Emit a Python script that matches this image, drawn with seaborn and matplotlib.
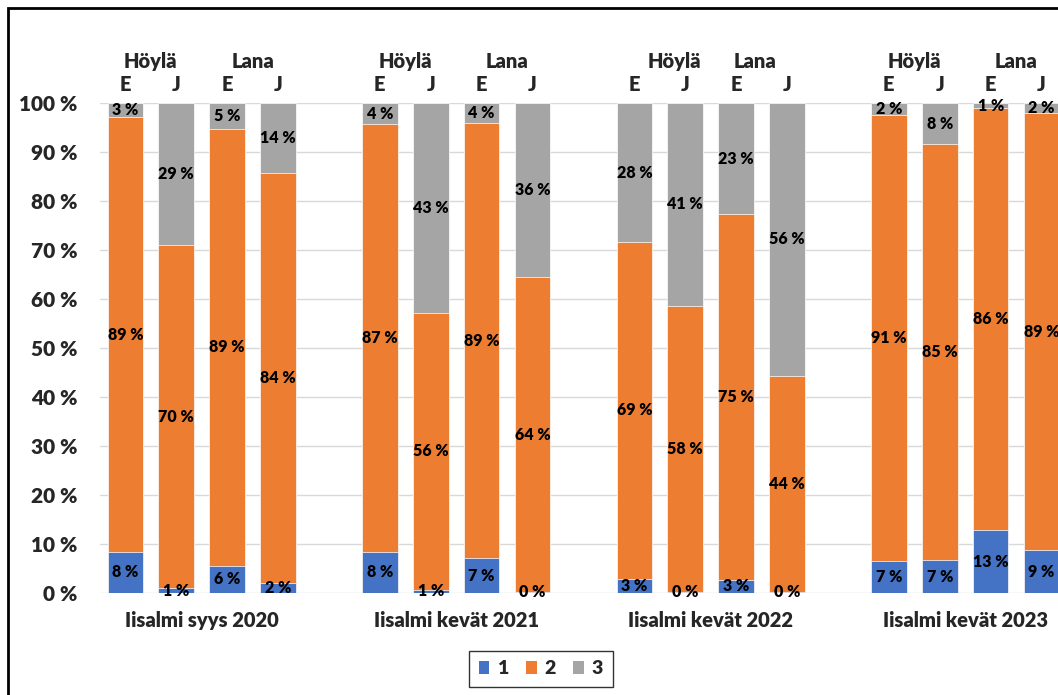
import pandas as pd
import numpy as np
import matplotlib.pyplot as plt
import seaborn as sns
from matplotlib.patches import Patch, Rectangle

sns.set_style("white")
plt.rcParams['font.family'] = ['Lato', 'DejaVu Sans']
plt.rcParams['font.weight'] = 'heavy'

# data (percent shares of classes 1, 2, 3)
groups = ["Iisalmi syys 2020", "Iisalmi kevät 2021", "Iisalmi kevät 2022", "Iisalmi kevät 2023"]
sites = ["Höylä", "Lana"]
sides = ["E", "J"]
cls1 = [8.4, 1.0, 5.6, 2.0, 8.4, 0.7, 7.1, 0.2, 2.9, 0.2, 2.7, 0.2, 6.6, 6.7, 12.8, 8.7]
cls2 = [88.7, 70.0, 89.0, 83.8, 87.3, 56.4, 88.8, 64.2, 68.7, 58.4, 74.6, 44.1, 91.0, 84.9, 86.1, 89.2]
cls3 = [2.9, 29.0, 5.4, 14.2, 4.3, 42.9, 4.1, 35.6, 28.4, 41.4, 22.7, 55.7, 2.4, 8.4, 1.1, 2.1]
yticks = list(range(0, 101, 10))

colors = {"1": "#4472C4", "2": "#ED7D31", "3": "#A5A5A5"}
W = "heavy"

# one slot per bar, plus an empty slot after each group
rows = []
order = []
i = 0
for g in range(len(groups)):
    for s in sites:
        for e in sides:
            key = f"{g}-{s}-{e}"
            order.append(key)
            rows.append({"slot": key, "group": g, "c1": cls1[i], "c2": cls2[i], "c3": cls3[i]})
            i += 1
    order.append(f"{g}-gap")
df = pd.DataFrame(rows)
df["top1"] = df["c1"]
df["top2"] = df["c1"] + df["c2"]
df["top3"] = df["c1"] + df["c2"] + df["c3"]

fig = plt.figure(figsize=(10.58, 6.95), dpi=100)
ax = fig.add_axes([0.0944, 0.1468, 0.9622, 0.705])

for col, c in [("top3", "3"), ("top2", "2"), ("top1", "1")]:
    sns.barplot(data=df, x="slot", y=col, order=order, color=colors[c], saturation=1,
                width=0.7, errorbar=None, edgecolor="white", linewidth=0.5, ax=ax)

# segment labels
for _, r in df.iterrows():
    x = order.index(r["slot"])
    base = 0
    for c in ["c1", "c2", "c3"]:
        v = r[c]
        ax.text(x, base + v / 2, f"{round(v)} %", ha="center", va="center",
                fontsize=11.5, fontweight=W, color="black")
        base += v

# headers above the bars
head_shift = [[0, 0], [0, 0], [0.28, -0.13], [0, 0]]
for g in range(len(groups)):
    x0 = g * 5
    for k, s in enumerate(sites):
        ax.annotate(s, xy=(x0 + 2 * k + 0.5 + head_shift[g][k], 1.0), xycoords=("data", "axes fraction"),
                    xytext=(0, 30), textcoords="offset points", ha="center", va="center",
                    fontsize=14.5, fontweight=W)
        for m, e in enumerate(sides):
            ax.annotate(e, xy=(x0 + 2 * k + m, 1.0), xycoords=("data", "axes fraction"),
                        xytext=(0, 13.5), textcoords="offset points", ha="center", va="center",
                        fontsize=14.5, fontweight=W)
    ax.annotate(groups[g], xy=(x0 + 1.5, 0), xycoords=("data", "axes fraction"),
                xytext=(0, -19.5), textcoords="offset points", ha="center", va="center",
                fontsize=14.5, fontweight=W)

ax.set_xlim(-0.5, len(order) - 0.5)
ax.set_ylim(0, 100)
ax.set_yticks(yticks)
ax.set_yticklabels([f"{t} %" for t in yticks], fontsize=15, fontweight=W)
ax.set_xticks([])
ax.set_xlabel("")
ax.set_ylabel("")
ax.tick_params(axis="y", length=0, pad=16)
ax.yaxis.grid(True, color="#D9D9D9", linewidth=1)
ax.set_axisbelow(True)
for sp in ax.spines.values():
    sp.set_visible(False)

handles = [Patch(facecolor=colors[c], edgecolor="none", label=c) for c in ["1", "2", "3"]]
leg = fig.legend(handles=handles, loc="center", bbox_to_anchor=(541 / 1058, 1 - 669 / 695),
                 ncol=3, frameon=True, fancybox=False, edgecolor="black",
                 handlelength=0.55, handleheight=0.6, handletextpad=0.4, columnspacing=0.9,
                 prop={"size": 14, "weight": W}, borderpad=0.5, borderaxespad=0)
leg.get_frame().set_linewidth(1)

fig.patches.append(Rectangle((8 / 1058, -0.1), 1.2, 1.1 - 8 / 695, transform=fig.transFigure,
                             fill=False, edgecolor="black", linewidth=2))

fig.savefig("out.png", dpi=100)
